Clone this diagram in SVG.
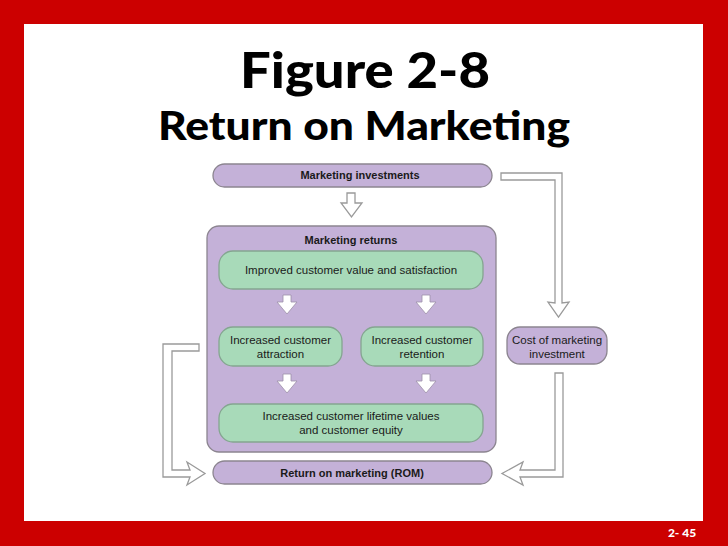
<svg xmlns="http://www.w3.org/2000/svg" width="728" height="546" viewBox="0 0 728 546">
<style>
.t{font-family:"Liberation Sans",Arial,sans-serif;fill:#1a1a1a;text-anchor:middle}
.b{font-weight:bold;font-size:11px}
.r{font-size:11.5px}
.pur{fill:#c4b1d8;stroke:#8c8590;stroke-width:1.3}
.grn{fill:#a8dab9;stroke:#84a590;stroke-width:1.3}
.hol{fill:#fff;stroke:#9a9a9a;stroke-width:1.3;stroke-linejoin:miter}
.wht{fill:#fff;stroke:#9d90a8;stroke-width:0.8}
.title{font-family:"Lato","Open Sans",sans-serif;font-weight:900;fill:#000;text-anchor:middle}
</style>
<rect x="0" y="0" width="728" height="546" fill="#cc0000"/>
<rect x="24" y="24" width="679" height="497" fill="#fff"/>
<text class="title" x="365" y="88" font-size="50" textLength="250" lengthAdjust="spacingAndGlyphs">Figure 2-8</text>
<text class="title" x="364" y="140" font-size="40" textLength="412" lengthAdjust="spacingAndGlyphs">Return on Marketing</text>
<text x="682" y="537" font-family="Lato,sans-serif" font-weight="900" font-size="12" fill="#fff" text-anchor="middle">2- 45</text>

<g id="marketing-investments">
<rect class="pur" x="213" y="164" width="279" height="23" rx="11.5"/>
<text class="t b" x="360" y="179">Marketing investments</text>
</g>
<g id="marketing-returns">
<rect class="pur" x="207" y="226" width="289" height="226" rx="12"/>
<text class="t b" x="351" y="244">Marketing returns</text>
</g>
<g id="improved-value">
<rect class="grn" x="219" y="251" width="264" height="38" rx="14"/>
<text class="t r" x="351" y="274">Improved customer value and satisfaction</text>
</g>
<g id="attraction">
<rect class="grn" x="219" y="327" width="123" height="39" rx="14"/>
<text class="t r" x="280.5" y="344">Increased customer</text>
<text class="t r" x="280.5" y="358">attraction</text>
</g>
<g id="retention">
<rect class="grn" x="361" y="327" width="122" height="39" rx="14"/>
<text class="t r" x="422" y="344">Increased customer</text>
<text class="t r" x="422" y="358">retention</text>
</g>
<g id="lifetime-values">
<rect class="grn" x="219" y="404" width="264" height="38" rx="14"/>
<text class="t r" x="351" y="420">Increased customer lifetime values</text>
<text class="t r" x="351" y="434">and customer equity</text>
</g>
<g id="cost">
<rect class="pur" x="507" y="327" width="100" height="37" rx="13"/>
<text class="t r" x="557" y="344">Cost of marketing</text>
<text class="t r" x="557" y="358">investment</text>
</g>
<g id="rom">
<rect class="pur" x="213" y="461" width="279" height="23" rx="11.5"/>
<text class="t b" x="352" y="477">Return on marketing (ROM)</text>
</g>

<g id="connectors">
<polygon class="hol" points="347,193 355,193 355,203 362,203 351.5,217 341,203 347,203"/>
<polygon class="hol" points="501,173 562,173 562,303 569,302 558.5,317 548,302 555,303 555,180 501,180"/>
<polygon class="hol" points="555,373 563,373 563,477 520,477 523,485 502,473.5 523,462 520,470 555,470"/>
<polygon class="hol" points="199,344 163,344 163,477 190,477 187,485 205,473.5 187,462 190,470 172,470 172,351 199,351"/>
<polygon class="wht" points="283,295 291,295 291,302 297,302 287,314 277,302 283,302"/>
<polygon class="wht" points="422,295 430,295 430,302 436,302 426,314 416,302 422,302"/>
<polygon class="wht" points="283,374 291,374 291,381 297,381 287,393 277,381 283,381"/>
<polygon class="wht" points="422,374 430,374 430,381 436,381 426,393 416,381 422,381"/>
</g>
</svg>
